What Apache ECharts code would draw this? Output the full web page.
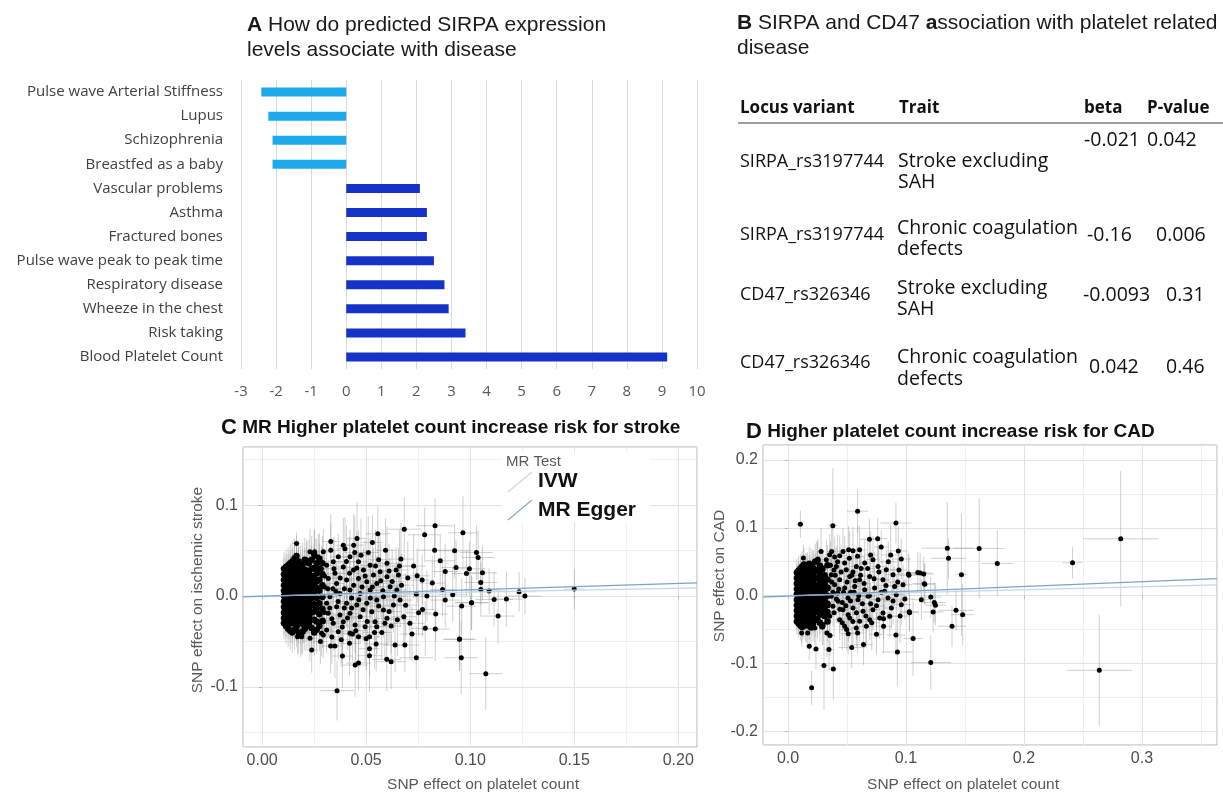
<!DOCTYPE html>
<html><head><meta charset="utf-8">
<script src="https://cdn.jsdelivr.net/npm/echarts@6/dist/echarts.min.js"></script>
<style>html,body{margin:0;padding:0;background:#fff}#c{width:1223px;height:792px}</style>
</head><body><div id="c"></div>
<script>
// ---------- Panel A data ----------
const diseaseCategories = ['Pulse wave Arterial Stiffness','Lupus','Schizophrenia','Breastfed as a baby','Vascular problems','Asthma','Fractured bones','Pulse wave peak to peak time','Respiratory disease','Wheeze in the chest','Risk taking','Blood Platelet Count'];
const diseaseValues = [-2.42,-2.22,-2.1,-2.1,2.1,2.3,2.3,2.5,2.8,2.92,3.4,9.15];

// ---------- Panel B data ----------
const tableHeader = ['Locus variant','Trait','beta','P-value'];
const tableLocus = ['SIRPA_rs3197744','SIRPA_rs3197744','CD47_rs326346','CD47_rs326346'];
const tableTrait = ['Stroke excluding\nSAH','Chronic coagulation\ndefects','Stroke excluding\nSAH','Chronic coagulation\ndefects'];
const tableBeta = ['-0.021','-0.16','-0.0093','0.042'];
const tableP = ['0.042','0.006','0.31','0.46'];

// ---------- Panel C data ----------
// dense core, by column: [x, xse, yse, [y values]]
const strokeCore = [
 [0.0105,0.0018,0.018,[-0.030,-0.024,-0.018,-0.012,-0.006,0,0.006,0.012,0.018,0.024,0.030]],
 [0.0115,0.0019,0.019,[-0.033,-0.027,-0.021,-0.015,-0.009,-0.003,0.003,0.009,0.015,0.021,0.027,0.032]],
 [0.0125,0.0020,0.020,[-0.036,-0.027,-0.021,-0.015,-0.009,-0.003,0.003,0.009,0.015,0.021,0.027,0.034]],
 [0.0135,0.0021,0.021,[-0.038,-0.030,-0.024,-0.018,-0.012,-0.006,0,0.006,0.012,0.018,0.024,0.030,0.036]],
 [0.0145,0.0022,0.022,[-0.040,-0.030,-0.024,-0.018,-0.012,-0.006,0,0.006,0.012,0.018,0.024,0.030,0.038]],
 [0.0155,0.0023,0.022,[-0.037,-0.027,-0.021,-0.015,-0.009,-0.003,0.003,0.009,0.015,0.021,0.027,0.033,0.041]],
 [0.0165,0.0024,0.022,[-0.034,-0.027,-0.021,-0.015,-0.009,-0.003,0.003,0.009,0.015,0.021,0.027,0.036,0.044]],
 [0.0175,0.0025,0.023,[-0.040,-0.030,-0.024,-0.018,-0.012,-0.006,0,0.006,0.012,0.018,0.024,0.030,0.038]],
 [0.0185,0.0026,0.024,[-0.043,-0.030,-0.024,-0.018,-0.012,-0.006,0,0.006,0.012,0.018,0.024,0.032]],
 [0.0195,0.0027,0.024,[-0.039,-0.027,-0.021,-0.015,-0.009,-0.003,0.003,0.009,0.015,0.021,0.027,0.035]],
 [0.0205,0.0028,0.024,[-0.036,-0.027,-0.021,-0.015,-0.009,-0.003,0.003,0.009,0.015,0.021,0.029,0.040]],
 [0.0215,0.0029,0.025,[-0.033,-0.024,-0.017,-0.010,-0.003,0.004,0.011,0.019,0.028,0.038]],
 [0.0225,0.0030,0.026,[-0.031,-0.022,-0.013,-0.006,0.001,0.008,0.016,0.025,0.036]],
 [0.0238,0.0031,0.026,[-0.035,-0.026,-0.018,-0.010,-0.002,0.006,0.014,0.022,0.030,0.040]],
 [0.0250,0.0032,0.026,[-0.040,-0.026,-0.017,-0.009,0.004,0.012,0.020,0.031,0.046]],
 [0.0262,0.0033,0.027,[-0.037,-0.028,-0.014,-0.002,0.009,0.016,0.025,0.036]],
 [0.0275,0.0034,0.028,[-0.033,-0.020,-0.008,0.006,0.018,0.030,0.041]],
 [0.0290,0.0035,0.030,[-0.027,-0.014,-0.001,0.012,0.024,0.036]]
];
// scattered points: [x, y, xse, yse]
const strokeMid = [
[0.0294,0.0487,0.004,0.025],[0.0330,0.0505,0.004,0.030],[0.0366,0.0432,0.004,0.025],[0.0422,0.0432,0.004,0.030],
[0.0463,0.0377,0.005,0.035],[0.0487,0.0286,0.005,0.025],[0.0439,0.0286,0.004,0.030],[0.0390,0.0320,0.004,0.025],
[0.0350,0.0250,0.004,0.025],[0.0318,0.0194,0.003,0.020],[0.0358,0.0139,0.004,0.025],[0.0406,0.0176,0.004,0.025],
[0.0463,0.0194,0.005,0.030],[0.0503,0.0158,0.005,0.030],[0.0535,0.0231,0.005,0.030],[0.0567,0.0267,0.005,0.040],
[0.0551,0.0139,0.005,0.030],[0.0519,0.0066,0.005,0.030],[0.0471,0.0029,0.005,0.025],[0.0422,0.0066,0.004,0.025],
[0.0374,0.0029,0.004,0.025],[0.0326,-0.0007,0.003,0.020],[0.0310,-0.0080,0.003,0.025],[0.0358,-0.0117,0.004,0.025],
[0.0406,-0.0080,0.004,0.025],[0.0455,-0.0099,0.005,0.030],[0.0503,-0.0080,0.005,0.030],[0.0551,-0.0044,0.005,0.030],
[0.0583,-0.0007,0.005,0.030],[0.0318,-0.0190,0.003,0.025],[0.0374,-0.0209,0.004,0.025],[0.0422,-0.0190,0.004,0.030],
[0.0471,-0.0227,0.005,0.030],[0.0527,-0.0172,0.005,0.030],[0.0294,-0.0282,0.003,0.025],[0.0342,-0.0300,0.004,0.030],
[0.0390,-0.0282,0.004,0.025],[0.0447,-0.0319,0.005,0.030],[0.0495,-0.0337,0.005,0.040],[0.0543,-0.0282,0.005,0.030],
[0.0310,-0.0374,0.003,0.025],[0.0366,-0.0392,0.004,0.030],[0.0422,-0.0410,0.004,0.030],[0.0286,-0.0410,0.003,0.025],
[0.0463,-0.0447,0.005,0.030],[0.0246,-0.0374,0.003,0.020],[0.0230,-0.0465,0.003,0.025],[0.0198,-0.0320,0.002,0.020],
[0.0165,-0.0300,0.002,0.020],[0.0190,-0.0447,0.002,0.020],[0.0254,0.0432,0.003,0.020],[0.0214,0.0396,0.003,0.020],
[0.0173,0.0322,0.002,0.020],[0.0230,0.0487,0.003,0.025],[0.0342,0.0377,0.004,0.025],[0.0310,0.0340,0.003,0.025],
[0.0519,0.0340,0.005,0.030],[0.0600,0.0212,0.005,0.030],[0.0615,0.0103,0.005,0.030],[0.0647,0.0066,0.005,0.030],
[0.0663,-0.0044,0.006,0.030],[0.0631,-0.0099,0.005,0.030],[0.0583,-0.0154,0.005,0.030],[0.0600,-0.0245,0.005,0.030],
[0.0398,0.0520,0.004,0.035],[0.0445,0.0480,0.005,0.040],[0.0270,0.0430,0.003,0.025],[0.0335,-0.0450,0.004,0.030],
[0.0380,-0.0480,0.004,0.030],[0.0280,-0.0500,0.003,0.025],[0.0500,-0.0470,0.005,0.035],[0.0575,-0.0400,0.005,0.030],
[0.0620,-0.0330,0.005,0.030],[0.0480,0.0100,0.005,0.025],[0.0430,-0.0020,0.004,0.025],[0.0340,0.0080,0.004,0.020],
[0.0300,0.0100,0.003,0.020],[0.0300,-0.0180,0.003,0.020],[0.0395,-0.0130,0.004,0.025],[0.0560,0.0400,0.005,0.030],
[0.0285,0.0300,0.004,0.025],[0.0300,0.0220,0.004,0.025],[0.0315,0.0080,0.004,0.025],[0.0325,-0.0130,0.004,0.030],
[0.0335,-0.0250,0.004,0.030],[0.0345,0.0300,0.004,0.035],[0.0355,0.0050,0.004,0.030],[0.0365,-0.0060,0.004,0.030],
[0.0375,0.0200,0.004,0.035],[0.0385,-0.0340,0.004,0.040],[0.0395,0.0080,0.004,0.030],[0.0405,0.0380,0.005,0.040],
[0.0410,-0.0240,0.005,0.035],[0.0420,0.0250,0.005,0.040],[0.0430,-0.0130,0.005,0.035],[0.0440,0.0120,0.005,0.040],
[0.0450,-0.0380,0.005,0.040],[0.0455,0.0310,0.005,0.040],[0.0465,-0.0040,0.005,0.035],[0.0475,0.0450,0.005,0.040],
[0.0485,-0.0150,0.005,0.035],[0.0495,0.0220,0.005,0.040],[0.0505,-0.0280,0.005,0.040],[0.0510,0.0480,0.005,0.040],
[0.0520,-0.0020,0.005,0.035],[0.0530,0.0100,0.005,0.040],[0.0540,-0.0400,0.006,0.040],[0.0545,0.0330,0.006,0.040],
[0.0560,-0.0110,0.006,0.035],[0.0570,0.0170,0.006,0.040],[0.0580,0.0060,0.006,0.035],[0.0590,-0.0300,0.006,0.040],
[0.0600,0.0360,0.006,0.040],[0.0610,-0.0170,0.006,0.035],[0.0625,0.0160,0.006,0.035],[0.0635,0.0000,0.006,0.035],
[0.0650,-0.0260,0.006,0.040],[0.0660,0.0330,0.006,0.040],[0.0670,0.0120,0.006,0.035],[0.0690,-0.0100,0.006,0.035],
[0.0700,0.0200,0.007,0.040],[0.0710,-0.0300,0.007,0.040],[0.0330,0.0600,0.004,0.030],[0.0350,-0.0550,0.004,0.035],
[0.0420,-0.0520,0.005,0.035],[0.0440,0.0560,0.005,0.035]
];
const strokeOutliers = [
[0.0165,0.0579,0.002,0.012],[0.0556,0.0685,0.006,0.030],[0.0683,0.0736,0.008,0.035],[0.0831,0.0773,0.009,0.030],
[0.0965,0.0696,0.007,0.040],[0.0781,0.0674,0.008,0.030],[0.0829,0.0505,0.008,0.030],[0.0856,0.0388,0.007,0.028],
[0.0925,0.0498,0.008,0.030],[0.0932,0.0315,0.007,0.030],[0.0982,0.0249,0.007,0.025],[0.0996,0.0300,0.008,0.030],
[0.0880,0.0271,0.006,0.030],[0.0818,0.0143,0.006,0.030],[0.0769,0.0176,0.006,0.028],[0.0745,0.0223,0.006,0.030],
[0.0728,0.0330,0.006,0.035],[0.0667,0.0407,0.006,0.040],[0.0655,0.0231,0.005,0.030],[0.0644,0.0286,0.006,0.025],
[0.0610,0.0275,0.005,0.030],[0.0593,0.0505,0.005,0.035],[0.0530,0.0590,0.005,0.030],[0.0456,0.0634,0.005,0.040],
[0.0390,0.0560,0.004,0.030],[0.0252,0.0487,0.003,0.025],[0.0238,-0.0593,0.003,0.025],[0.0170,-0.0447,0.002,0.020],
[0.0360,-0.1040,0.008,0.033],[0.0386,-0.0659,0.005,0.035],[0.0447,-0.0758,0.006,0.035],[0.0463,-0.0736,0.006,0.030],
[0.0516,-0.0656,0.006,0.040],[0.0516,-0.0579,0.005,0.030],[0.0548,-0.0527,0.006,0.030],[0.0599,-0.0696,0.007,0.035],
[0.0620,-0.0722,0.007,0.030],[0.0639,-0.0538,0.006,0.030],[0.0686,-0.0538,0.007,0.030],[0.0741,-0.0678,0.008,0.035],
[0.0720,-0.0418,0.006,0.030],[0.0784,-0.0355,0.007,0.030],[0.0832,-0.0363,0.007,0.035],[0.0681,-0.0227,0.006,0.030],
[0.0834,-0.0198,0.006,0.030],[0.0949,-0.0476,0.008,0.035],[0.0957,-0.0678,0.008,0.040],[0.0771,-0.0147,0.006,0.030],
[0.0752,-0.0183,0.006,0.025],[0.0880,-0.0044,0.007,0.030],[0.0916,0.0015,0.007,0.030],[0.0959,-0.0110,0.007,0.030],
[0.1006,-0.0073,0.008,0.030],[0.0867,0.0073,0.006,0.030],[0.0792,0.0000,0.006,0.028],[0.0741,0.0022,0.006,0.030],
[0.0551,-0.0337,0.005,0.030],[0.0516,-0.0447,0.005,0.030],[0.0434,-0.0418,0.005,0.030],[0.0329,-0.0549,0.004,0.030],
[0.0294,-0.0429,0.004,0.025],[0.1030,0.0480,0.008,0.030],[0.1038,0.0425,0.008,0.030],[0.1059,0.0256,0.007,0.030],
[0.1051,0.0150,0.008,0.025],[0.1051,0.0073,0.008,0.030],[0.1091,0.0055,0.008,0.025],[0.1115,-0.0037,0.009,0.030],
[0.1174,-0.0033,0.008,0.030],[0.1235,0.0048,0.008,0.022],[0.1263,0.0000,0.008,0.020],[0.1500,0.0077,0.005,0.022],
[0.1134,-0.0220,0.008,0.030],[0.1007,-0.0073,0.008,0.030],[0.1075,-0.0853,0.008,0.040],[0.0948,-0.0473,0.007,0.035]
];
const ivwStroke = [[-0.0092,-0.0004],[0.209,0.0090]];
const eggerStroke = [[-0.0092,-0.0008],[0.209,0.0145]];

// ---------- Panel D data ----------
const cadCore = [
 [0.0075,0.0018,0.020,[-0.038,-0.030,-0.022,-0.014,-0.006,0.002,0.010,0.018,0.026,0.034]],
 [0.0090,0.0019,0.021,[-0.041,-0.034,-0.026,-0.018,-0.010,-0.002,0.006,0.014,0.022,0.030,0.037]],
 [0.0105,0.0020,0.022,[-0.044,-0.034,-0.026,-0.018,-0.010,-0.002,0.006,0.014,0.022,0.030,0.040]],
 [0.0120,0.0021,0.023,[-0.046,-0.038,-0.030,-0.022,-0.014,-0.006,0.002,0.010,0.018,0.026,0.034,0.043]],
 [0.0135,0.0022,0.024,[-0.040,-0.030,-0.022,-0.014,-0.006,0.002,0.010,0.018,0.026,0.035,0.046]],
 [0.0150,0.0023,0.024,[-0.043,-0.034,-0.026,-0.018,-0.010,-0.002,0.006,0.014,0.022,0.030,0.038]],
 [0.0165,0.0024,0.024,[-0.036,-0.026,-0.018,-0.010,-0.002,0.006,0.014,0.022,0.030,0.040]],
 [0.0180,0.0025,0.025,[-0.040,-0.030,-0.022,-0.014,-0.006,0.002,0.010,0.018,0.026,0.035,0.047]],
 [0.0195,0.0026,0.026,[-0.047,-0.033,-0.024,-0.015,-0.006,0.003,0.012,0.021,0.030,0.043]],
 [0.0212,0.0027,0.026,[-0.042,-0.029,-0.019,-0.009,0.001,0.011,0.021,0.031,0.040]],
 [0.0230,0.0028,0.026,[-0.034,-0.024,-0.014,-0.004,0.006,0.016,0.026,0.036,0.050]],
 [0.0250,0.0029,0.027,[-0.036,-0.022,-0.010,0.002,0.014,0.026,0.038,0.052]],
 [0.0270,0.0030,0.028,[-0.040,-0.028,-0.016,-0.004,0.008,0.020,0.032,0.044]],
 [0.0290,0.0031,0.028,[-0.045,-0.024,-0.010,0.000,0.012,0.024,0.040]],
 [0.0310,0.0032,0.028,[-0.030,-0.018,-0.006,0.006,0.018,0.030]],
 [0.0335,0.0034,0.030,[-0.038,-0.024,-0.012,0.000,0.012,0.024,0.045]]
];
const cadMid = [
[0.0353,0.0603,0.004,0.030],[0.0395,0.0569,0.004,0.030],[0.0438,0.0588,0.005,0.030],[0.0466,0.0652,0.005,0.035],
[0.0514,0.0676,0.005,0.035],[0.0551,0.0662,0.005,0.035],[0.0607,0.0676,0.006,0.035],[0.0325,0.0529,0.004,0.030],
[0.0254,0.0539,0.003,0.030],[0.0410,0.0431,0.004,0.030],[0.0494,0.0382,0.005,0.030],[0.0579,0.0431,0.005,0.030],
[0.0650,0.0480,0.006,0.035],[0.0720,0.0529,0.006,0.035],[0.0763,0.0431,0.006,0.030],[0.0833,0.0382,0.007,0.030],
[0.0890,0.0309,0.007,0.030],[0.0805,0.0235,0.006,0.030],[0.0692,0.0284,0.006,0.030],[0.0607,0.0235,0.006,0.030],
[0.0523,0.0284,0.005,0.030],[0.0438,0.0235,0.004,0.030],[0.0367,0.0309,0.004,0.030],[0.0395,0.0162,0.004,0.030],
[0.0480,0.0113,0.005,0.030],[0.0565,0.0137,0.005,0.030],[0.0650,0.0088,0.006,0.030],[0.0734,0.0113,0.006,0.030],
[0.0819,0.0064,0.007,0.030],[0.0904,0.0137,0.007,0.030],[0.0975,0.0162,0.008,0.030],[0.0918,0.0015,0.007,0.030],
[0.0847,-0.0034,0.007,0.030],[0.0763,-0.0059,0.006,0.030],[0.0678,-0.0010,0.006,0.030],[0.0593,-0.0059,0.005,0.030],
[0.0508,-0.0034,0.005,0.030],[0.0424,-0.0083,0.004,0.030],[0.0367,-0.0010,0.004,0.030],[0.0381,-0.0157,0.004,0.030],
[0.0466,-0.0206,0.005,0.030],[0.0551,-0.0181,0.005,0.030],[0.0636,-0.0230,0.006,0.030],[0.0720,-0.0206,0.006,0.030],
[0.0805,-0.0255,0.007,0.030],[0.0876,-0.0181,0.007,0.030],[0.0960,-0.0132,0.008,0.030],[0.0353,-0.0304,0.004,0.030],
[0.0438,-0.0353,0.004,0.030],[0.0523,-0.0328,0.005,0.030],[0.0607,-0.0377,0.006,0.030],[0.0692,-0.0353,0.006,0.030],
[0.0777,-0.0328,0.007,0.030],[0.0862,-0.0304,0.007,0.030],[0.0480,-0.0451,0.005,0.030],[0.0579,-0.0475,0.005,0.030],
[0.0664,-0.0451,0.006,0.030],[0.0297,-0.0426,0.003,0.030],[0.0226,-0.0475,0.003,0.025],[0.0155,-0.0451,0.002,0.025],
[0.0127,-0.0353,0.002,0.025],[0.0212,0.0431,0.003,0.025],[0.0240,0.0505,0.003,0.030],[0.0155,0.0382,0.002,0.025],
[0.0297,0.0382,0.003,0.030],[0.0356,-0.0588,0.004,0.030],[0.0497,-0.0500,0.005,0.030],[0.0340,0.0100,0.004,0.025],
[0.0340,-0.0150,0.004,0.025],[0.0420,0.0040,0.004,0.025],[0.0460,-0.0100,0.004,0.025],[0.0530,0.0050,0.005,0.025],
[0.0620,0.0400,0.006,0.030],[0.0700,0.0600,0.006,0.035],[0.0850,0.0500,0.007,0.030],[0.0940,0.0380,0.007,0.030],
[0.0990,-0.0050,0.008,0.030],[0.0550,0.0350,0.005,0.030],[0.0390,0.0380,0.004,0.030],[0.0290,0.0200,0.003,0.025],
[0.0290,-0.0200,0.003,0.025],[0.0700,-0.0120,0.006,0.030],
[0.0360,0.0450,0.004,0.035],[0.0370,0.0200,0.004,0.035],[0.0380,0.0050,0.004,0.035],[0.0390,-0.0250,0.004,0.035],
[0.0400,0.0300,0.004,0.040],[0.0410,-0.0050,0.004,0.035],[0.0420,0.0500,0.005,0.040],[0.0430,0.0100,0.005,0.035],
[0.0440,-0.0200,0.005,0.035],[0.0450,0.0350,0.005,0.040],[0.0460,-0.0400,0.005,0.040],[0.0470,0.0050,0.005,0.035],
[0.0480,0.0480,0.005,0.040],[0.0490,-0.0150,0.005,0.035],[0.0500,0.0200,0.005,0.040],[0.0510,-0.0280,0.005,0.040],
[0.0520,0.0550,0.005,0.040],[0.0530,-0.0080,0.005,0.035],[0.0540,0.0300,0.005,0.040],[0.0550,-0.0380,0.005,0.040],
[0.0560,0.0050,0.006,0.035],[0.0570,0.0220,0.006,0.040],[0.0580,-0.0250,0.006,0.040],[0.0590,0.0580,0.006,0.045],
[0.0600,0.0000,0.006,0.035],[0.0615,0.0300,0.006,0.040],[0.0630,-0.0120,0.006,0.035],[0.0645,0.0180,0.006,0.040],
[0.0660,-0.0300,0.006,0.040],[0.0675,0.0400,0.006,0.040],[0.0690,0.0000,0.006,0.035],[0.0710,-0.0400,0.007,0.040],
[0.0730,0.0250,0.007,0.040],[0.0750,-0.0150,0.007,0.035],[0.0770,0.0350,0.007,0.040],[0.0790,0.0050,0.007,0.035],
[0.0810,-0.0450,0.007,0.040],[0.0830,0.0150,0.007,0.035],[0.0870,0.0600,0.008,0.045],[0.0890,-0.0080,0.008,0.035],
[0.0930,0.0200,0.008,0.035],[0.0950,-0.0300,0.008,0.040],[0.0370,0.0650,0.004,0.040],[0.0330,-0.0550,0.004,0.035],
[0.0280,0.0650,0.003,0.035]
];
const cadOutliers = [
[0.0105,0.1054,0.003,0.020],[0.0380,0.1030,0.004,0.085],[0.0590,0.1245,0.009,0.032],[0.0915,0.1070,0.013,0.030],
[0.0690,0.0830,0.008,0.030],[0.0760,0.0840,0.008,0.030],[0.0790,0.0716,0.006,0.025],[0.1350,0.0700,0.022,0.068],
[0.1360,0.0550,0.015,0.030],[0.1620,0.0696,0.022,0.074],[0.1774,0.0475,0.013,0.048],[0.1470,0.0310,0.005,0.090],
[0.2412,0.0485,0.0085,0.023],[0.2820,0.0838,0.032,0.100],[0.2638,-0.1100,0.0275,0.082],[0.1424,-0.0216,0.015,0.030],
[0.1480,-0.0280,0.010,0.045],[0.1390,-0.0450,0.012,0.030],[0.1210,-0.0985,0.017,0.040],[0.1060,-0.0630,0.008,0.055],
[0.0927,-0.0830,0.013,0.050],[0.0915,-0.0580,0.008,0.030],[0.0750,-0.0570,0.006,0.030],[0.0640,-0.0720,0.008,0.030],
[0.0540,-0.0765,0.011,0.030],[0.0384,-0.1080,0.004,0.045],[0.0305,-0.1030,0.004,0.065],[0.0347,-0.0794,0.004,0.030],
[0.0200,-0.1358,0.002,0.025],[0.0237,-0.0784,0.003,0.030],[0.0180,-0.0745,0.003,0.020],[0.0116,-0.0550,0.002,0.020],
[0.0167,-0.0550,0.002,0.020],[0.0130,0.0554,0.002,0.020],[0.1025,0.0300,0.008,0.030],[0.1120,0.0333,0.010,0.030],
[0.1155,0.0176,0.010,0.030],[0.1240,-0.0100,0.010,0.030],[0.1130,-0.0060,0.008,0.030],[0.1028,-0.0235,0.008,0.030],
[0.1250,-0.0140,0.009,0.030],[0.1230,-0.0240,0.009,0.030],[0.1210,-0.0020,0.009,0.030],[0.1160,0.0170,0.009,0.030],
[0.1150,0.0320,0.009,0.025],[0.1100,0.0340,0.008,0.030],[0.1020,0.0320,0.008,0.030],[0.0960,0.0540,0.008,0.030],
[0.0935,0.0660,0.008,0.035],[0.0810,-0.0340,0.007,0.030],[0.0510,-0.0560,0.006,0.030],[0.0590,-0.0550,0.006,0.030],
[0.1030,-0.0250,0.008,0.025]
];
const ivwCAD = [[-0.0212,-0.0009],[0.3636,0.0160]];
const eggerCAD = [[-0.0212,-0.0020],[0.3636,0.0250]];

// ---------- build ----------
function expandColumns(cols){const out=[];cols.forEach(c=>c[3].forEach(y=>out.push([c[0],y,c[1],c[2]])));return out;}
const strokeCorePts = expandColumns(strokeCore);
const strokeOther = strokeMid.concat(strokeOutliers);
const strokeAll = strokeCorePts.concat(strokeOther);
const cadCorePts = expandColumns(cadCore);
const cadOther = cadMid.concat(cadOutliers);
const cadAll = cadCorePts.concat(cadOther);

const LIGHT='#1caaea', DARK='#1533c6';
const SANS='"Liberation Sans", Arial, sans-serif';
const HUM='"Open Sans", sans-serif';
const GRID_MAJOR='#e2e2e2', GRID_MINOR='#f0f0f0', BORDER='#b3b3b3', TICKTXT='#4d4d4d', TITLEGRAY='#595959';

function isMult(v, step){const r=v/step;return Math.abs(r-Math.round(r))<1e-6;}

function errRender(params, api){
  const x=api.value(0), y=api.value(1), dx=api.value(2), dy=api.value(3);
  const a=api.coord([x-dx,y]), b=api.coord([x+dx,y]), c=api.coord([x,y-dy]), d=api.coord([x,y+dy]);
  const st={stroke:'rgba(150,150,150,0.45)', lineWidth:1};
  return {type:'group', children:[
    {type:'line', shape:{x1:a[0],y1:a[1],x2:b[0],y2:b[1]}, style:st},
    {type:'line', shape:{x1:c[0],y1:c[1],x2:d[0],y2:d[1]}, style:st}
  ]};
}

function majorX(grid, min, max, step, dec){
  return {gridIndex:grid, type:'value', min, max, minInterval:step, maxInterval:step, z:1,
    axisLine:{show:false}, axisTick:{show:true, length:3, lineStyle:{color:BORDER}},
    axisLabel:{margin:6, color:TICKTXT, fontFamily:SANS, fontSize:16, showMinLabel:false, showMaxLabel:false,
      formatter:v=>isMult(v,step)?v.toFixed(dec):''},
    splitLine:{show:true, lineStyle:{color:GRID_MAJOR, width:1}}};
}
function minorAx(grid, min, max, step){
  return {gridIndex:grid, type:'value', min, max, minInterval:step, maxInterval:step, z:0,
    axisLine:{show:false}, axisTick:{show:false}, axisLabel:{show:false},
    splitLine:{show:true, lineStyle:{color:GRID_MINOR, width:1}}};
}
function majorY(grid, min, max, step, dec){
  return {gridIndex:grid, type:'value', min, max, minInterval:step, maxInterval:step, z:1,
    axisLine:{show:false}, axisTick:{show:true, length:3, lineStyle:{color:BORDER}},
    axisLabel:{margin:5, color:TICKTXT, fontFamily:SANS, fontSize:16, showMinLabel:false, showMaxLabel:false,
      formatter:v=>isMult(v,step)?v.toFixed(dec):''},
    splitLine:{show:true, lineStyle:{color:GRID_MAJOR, width:1}}};
}

const graphics = [];
// Titles
graphics.push({type:'text', x:247, y:25, style:{text:'{b|A} How do predicted SIRPA expression', fill:'#1a1a1a', fontFamily:SANS, fontSize:21, verticalAlign:'middle', rich:{b:{fontWeight:'bold', fontSize:21, fontFamily:SANS, fill:'#1a1a1a'}}}});
graphics.push({type:'text', x:247, y:50, style:{text:'levels associate with disease', fill:'#1a1a1a', fontFamily:SANS, fontSize:21, verticalAlign:'middle'}});
graphics.push({type:'text', x:737, y:23, style:{text:'{b|B} SIRPA and CD47 {b|a}ssociation with platelet related', fill:'#1a1a1a', fontFamily:SANS, fontSize:21, verticalAlign:'middle', rich:{b:{fontWeight:'bold', fontSize:21, fontFamily:SANS, fill:'#1a1a1a'}}}});
graphics.push({type:'text', x:737, y:48, style:{text:'disease', fill:'#1a1a1a', fontFamily:SANS, fontSize:21, verticalAlign:'middle'}});
graphics.push({type:'text', x:221, y:428, style:{text:'{c|C} MR Higher platelet count increase risk for stroke', fill:'#111', fontFamily:SANS, fontSize:19, fontWeight:'bold', verticalAlign:'middle', rich:{c:{fontWeight:'bold', fontSize:22, fontFamily:SANS, fill:'#111'}}}});
graphics.push({type:'text', x:746, y:432, style:{text:'{c|D} Higher platelet count increase risk for CAD', fill:'#111', fontFamily:SANS, fontSize:19, fontWeight:'bold', verticalAlign:'middle', rich:{c:{fontWeight:'bold', fontSize:22, fontFamily:SANS, fill:'#111'}}}});

// Table B
const headX=[740,899,1084,1147];
tableHeader.forEach((h,i)=>graphics.push({type:'text', x:headX[i], y:108, style:{text:h, fill:'#111', fontFamily:HUM, fontSize:17, fontWeight:'bold', verticalAlign:'middle'}}));
graphics.push({type:'line', shape:{x1:738,y1:123,x2:1223,y2:123}, style:{stroke:'#808080', lineWidth:1.5}});
const rowLocusY=[162,235,295,363], rowTraitY=[172,239,299,368.5], rowBetaY=[140,235,295,367], rowPY=[140,235,295,367];
const rowTraitX=[898,897,897,897], rowBetaX=[1084,1087,1083,1089], rowPX=[1147,1156,1166,1166];
for(let i=0;i<tableLocus.length;i++){
  graphics.push({type:'text', x:740, y:rowLocusY[i], style:{text:tableLocus[i], fill:'#111', fontFamily:HUM, fontSize:18, verticalAlign:'middle'}});
  graphics.push({type:'text', x:rowTraitX[i], y:rowTraitY[i], style:{text:tableTrait[i], fill:'#111', fontFamily:HUM, fontSize:19.5, lineHeight:21.5, verticalAlign:'middle'}});
  graphics.push({type:'text', x:rowBetaX[i], y:rowBetaY[i], style:{text:tableBeta[i], fill:'#111', fontFamily:HUM, fontSize:19.5, verticalAlign:'middle'}});
  graphics.push({type:'text', x:rowPX[i], y:rowPY[i], style:{text:tableP[i], fill:'#111', fontFamily:HUM, fontSize:19.5, verticalAlign:'middle'}});
}

// Legend in C (white key box like ggplot legend background)
graphics.push({type:'rect', z:10, shape:{x:502, y:452, width:148, height:70}, style:{fill:'#fff'}});
graphics.push({type:'text', z:11, x:506, y:462, style:{text:'MR Test', fill:TITLEGRAY, fontFamily:SANS, fontSize:15, verticalAlign:'middle'}});
graphics.push({type:'line', z:11, shape:{x1:508,y1:492,x2:532,y2:472}, style:{stroke:'#cfd6dd', lineWidth:1.2}});
graphics.push({type:'text', z:11, x:538, y:481, style:{text:'IVW', fill:'#111', fontFamily:SANS, fontSize:21, fontWeight:'bold', verticalAlign:'middle'}});
graphics.push({type:'line', z:11, shape:{x1:508,y1:520,x2:532,y2:500}, style:{stroke:'#86a9c9', lineWidth:1.2}});
graphics.push({type:'text', z:11, x:538, y:510, style:{text:'MR Egger', fill:'#111', fontFamily:SANS, fontSize:21, fontWeight:'bold', verticalAlign:'middle'}});

// Axis titles
graphics.push({type:'text', x:198, y:590, rotation:Math.PI/2, style:{text:'SNP effect on ischemic stroke', fill:TITLEGRAY, fontFamily:SANS, fontSize:15.5, align:'center', verticalAlign:'middle'}});
graphics.push({type:'text', x:483, y:785, style:{text:'SNP effect on platelet count', fill:TITLEGRAY, fontFamily:SANS, fontSize:15.5, align:'center', verticalAlign:'middle'}});
graphics.push({type:'text', x:720, y:576, rotation:Math.PI/2, style:{text:'SNP effect on CAD', fill:TITLEGRAY, fontFamily:SANS, fontSize:15.5, align:'center', verticalAlign:'middle'}});
graphics.push({type:'text', x:963, y:785, style:{text:'SNP effect on platelet count', fill:TITLEGRAY, fontFamily:SANS, fontSize:15.5, align:'center', verticalAlign:'middle'}});

const option = {
  animation:false,
  backgroundColor:'#fff',
  grid:[
    {left:241, top:80, width:456, height:289},
    {left:243, top:447, width:454, height:300, show:true, borderColor:BORDER, borderWidth:1, backgroundColor:'#fff'},
    {left:763, top:445, width:454, height:300, show:true, borderColor:BORDER, borderWidth:1, backgroundColor:'#fff'}
  ],
  xAxis:[
    {gridIndex:0, type:'value', min:-3, max:10, interval:1,
      axisLine:{show:false}, axisTick:{show:false},
      axisLabel:{margin:15, color:'#595959', fontFamily:HUM, fontSize:15},
      splitLine:{show:true, lineStyle:{color:'#d9d9d9'}}},
    majorX(1, -0.0092, 0.209, 0.05, 2),
    minorAx(1, -0.0092, 0.209, 0.025),
    majorX(2, -0.0212, 0.3636, 0.1, 1),
    minorAx(2, -0.0212, 0.3636, 0.05)
  ],
  yAxis:[
    {gridIndex:0, type:'category', data:diseaseCategories, inverse:true,
      axisLine:{show:false}, axisTick:{show:false},
      axisLabel:{margin:18, color:'#404040', fontFamily:HUM, fontSize:15},
      splitLine:{show:false}},
    majorY(1, -0.166, 0.164, 0.1, 1),
    minorAx(1, -0.166, 0.164, 0.05),
    majorY(2, -0.22, 0.222, 0.1, 1),
    minorAx(2, -0.22, 0.222, 0.05)
  ],
  graphic:{elements:graphics},
  series:[
    {type:'bar', xAxisIndex:0, yAxisIndex:0, barWidth:9, silent:true,
      data:diseaseValues.map(v=>({value:v, itemStyle:{color: v<0?LIGHT:DARK}}))},
    {type:'custom', xAxisIndex:1, yAxisIndex:1, renderItem:errRender, data:strokeAll, encode:{x:0,y:1}, silent:true, z:2},
    {type:'scatter', xAxisIndex:1, yAxisIndex:1, data:strokeCorePts.map(d=>[d[0],d[1]]), symbolSize:6.5, itemStyle:{color:'#000', opacity:1}, silent:true, z:3},
    {type:'scatter', xAxisIndex:1, yAxisIndex:1, data:strokeOther.map(d=>[d[0],d[1]]), symbolSize:5, itemStyle:{color:'#000', opacity:1}, silent:true, z:3},
    {type:'line', xAxisIndex:1, yAxisIndex:1, data:ivwStroke, symbol:'none', lineStyle:{color:'#c3d7ea', width:1.3}, silent:true, z:4},
    {type:'line', xAxisIndex:1, yAxisIndex:1, data:eggerStroke, symbol:'none', lineStyle:{color:'#7ba3c8', width:1.3}, silent:true, z:4},
    {type:'custom', xAxisIndex:3, yAxisIndex:3, renderItem:errRender, data:cadAll, encode:{x:0,y:1}, silent:true, z:2},
    {type:'scatter', xAxisIndex:3, yAxisIndex:3, data:cadCorePts.map(d=>[d[0],d[1]]), symbolSize:6.5, itemStyle:{color:'#000', opacity:1}, silent:true, z:3},
    {type:'scatter', xAxisIndex:3, yAxisIndex:3, data:cadOther.map(d=>[d[0],d[1]]), symbolSize:5, itemStyle:{color:'#000', opacity:1}, silent:true, z:3},
    {type:'line', xAxisIndex:3, yAxisIndex:3, data:ivwCAD, symbol:'none', lineStyle:{color:'#c3d7ea', width:1.3}, silent:true, z:4},
    {type:'line', xAxisIndex:3, yAxisIndex:3, data:eggerCAD, symbol:'none', lineStyle:{color:'#7ba3c8', width:1.3}, silent:true, z:4}
  ]
};
const chart = echarts.init(document.getElementById('c'), null, {renderer:'canvas'});
chart.setOption(option);
</script></body></html>
